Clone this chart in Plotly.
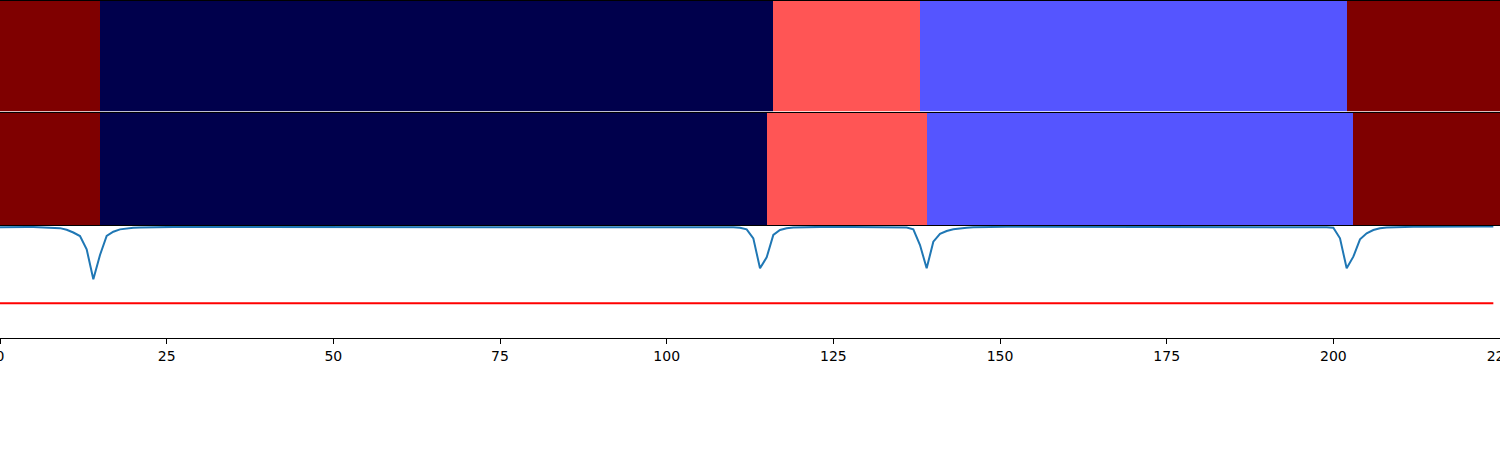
import plotly.graph_objects as go

# ---- data ----
# segment edges (time steps) and class ids for the two label rows
row1_edges = [0, 15, 116, 138, 202, 225]
row1_classes = [3, 0, 2, 1, 3]
row2_edges = [0, 15, 115, 139, 203, 225]
row2_classes = [3, 0, 2, 1, 3]

# class colours (seismic colormap sampled at 4 levels)
class_colors = ["#00004c", "#5555ff", "#ff5555", "#7f0000"]

# per-step score (x = 0..224)
score = [
    0.988, 0.990, 0.991, 0.991, 0.991, 0.991, 0.990, 0.989, 0.986, 0.981,
    0.966, 0.942, 0.910, 0.792, 0.524, 0.741, 0.911, 0.949, 0.970, 0.979,
    0.984, 0.987, 0.989, 0.990, 0.991, 0.991, 0.992, 0.992, 0.992, 0.993,
    0.993, 0.993, 0.993, 0.993, 0.993, 0.993, 0.993, 0.993, 0.993, 0.993,
    0.993, 0.993, 0.994, 0.994, 0.994, 0.994, 0.994, 0.994, 0.994, 0.994,
    0.994, 0.994, 0.994, 0.994, 0.994, 0.994, 0.994, 0.994, 0.994, 0.994,
    0.994, 0.994, 0.994, 0.994, 0.994, 0.994, 0.994, 0.994, 0.994, 0.994,
    0.994, 0.994, 0.994, 0.994, 0.994, 0.994, 0.994, 0.994, 0.994, 0.994,
    0.994, 0.994, 0.994, 0.994, 0.994, 0.994, 0.994, 0.994, 0.994, 0.994,
    0.994, 0.994, 0.994, 0.994, 0.994, 0.994, 0.994, 0.994, 0.994, 0.994,
    0.994, 0.994, 0.994, 0.994, 0.994, 0.993, 0.993, 0.993, 0.992, 0.990,
    0.988, 0.985, 0.970, 0.890, 0.622, 0.720, 0.920, 0.964, 0.980, 0.986,
    0.989, 0.991, 0.992, 0.992, 0.993, 0.993, 0.993, 0.993, 0.993, 0.993,
    0.993, 0.993, 0.993, 0.992, 0.991, 0.990, 0.987, 0.970, 0.830, 0.622,
    0.860, 0.929, 0.955, 0.971, 0.980, 0.985, 0.988, 0.990, 0.991, 0.992,
    0.992, 0.993, 0.993, 0.993, 0.994, 0.994, 0.994, 0.994, 0.994, 0.994,
    0.994, 0.994, 0.994, 0.994, 0.994, 0.994, 0.994, 0.994, 0.994, 0.994,
    0.994, 0.994, 0.994, 0.994, 0.994, 0.994, 0.994, 0.994, 0.994, 0.994,
    0.994, 0.994, 0.994, 0.994, 0.994, 0.994, 0.994, 0.994, 0.994, 0.994,
    0.994, 0.994, 0.994, 0.994, 0.994, 0.993, 0.993, 0.992, 0.991, 0.989,
    0.985, 0.890, 0.622, 0.726, 0.881, 0.935, 0.964, 0.979, 0.986, 0.989,
    0.991, 0.992, 0.993, 0.993, 0.994, 0.994, 0.995, 0.995, 0.995, 0.995,
    0.996, 0.996, 0.996, 0.996, 0.996,
]
steps = list(range(len(score)))
threshold = 0.31

x_ticks = [0, 25, 50, 75, 100, 125, 150, 175, 200, 225]

# ---- figure ----
W, H = 1500, 450
n_cls = len(class_colors)
cscale = []
for i, c in enumerate(class_colors):
    cscale.append([i / (n_cls - 1), c])


def dom(p_top, p_bot):
    return [1 - p_bot / H, 1 - p_top / H]


fig = go.Figure()

fig.add_trace(go.Heatmap(
    x=row1_edges, y=[0, 1], z=[row1_classes], zmin=0, zmax=n_cls - 1,
    colorscale=cscale, showscale=False, xaxis="x3", yaxis="y3", hoverinfo="skip"))
fig.add_trace(go.Heatmap(
    x=row2_edges, y=[0, 1], z=[row2_classes], zmin=0, zmax=n_cls - 1,
    colorscale=cscale, showscale=False, xaxis="x2", yaxis="y2", hoverinfo="skip"))

fig.add_trace(go.Scatter(
    x=steps, y=score, mode="lines", line=dict(color="#1f77b4", width=2),
    xaxis="x", yaxis="y", showlegend=False))
fig.add_trace(go.Scatter(
    x=steps, y=[threshold] * len(steps), mode="lines", line=dict(color="red", width=2),
    xaxis="x", yaxis="y", showlegend=False))

box = dict(showline=True, mirror=True, linecolor="black", linewidth=1,
           showgrid=False, zeroline=False, automargin=False)

fig.update_layout(
    width=W, height=H,
    margin=dict(l=0, r=0, t=0, b=0, autoexpand=False),
    paper_bgcolor="white", plot_bgcolor="white",
    showlegend=False,
    font=dict(family="DejaVu Sans", size=14, color="black"),
    xaxis=dict(range=[0, 225], tickmode="array", tickvals=x_ticks,
               ticks="outside", ticklen=5, tickwidth=1, tickcolor="black",
               ticklabeloverflow="allow", anchor="y", **box),
    yaxis=dict(domain=dom(226, 338), range=[0, 1.0], showticklabels=False,
               ticks="", anchor="x", **box),
    xaxis2=dict(range=[0, 225], matches="x", showticklabels=False, ticks="",
                anchor="y2", **box),
    yaxis2=dict(domain=dom(113, 225), range=[0, 1], showticklabels=False,
                ticks="", anchor="x2", **box),
    xaxis3=dict(range=[0, 225], matches="x", showticklabels=False, ticks="",
                anchor="y3", **box),
    yaxis3=dict(domain=dom(0.5, 111.5), range=[0, 1], showticklabels=False,
                ticks="", anchor="x3", **box),
)

fig.write_html(
    "out.html",
    config={"displayModeBar": False},
    post_script="document.body.style.margin='0';document.body.style.padding='0';",
)
